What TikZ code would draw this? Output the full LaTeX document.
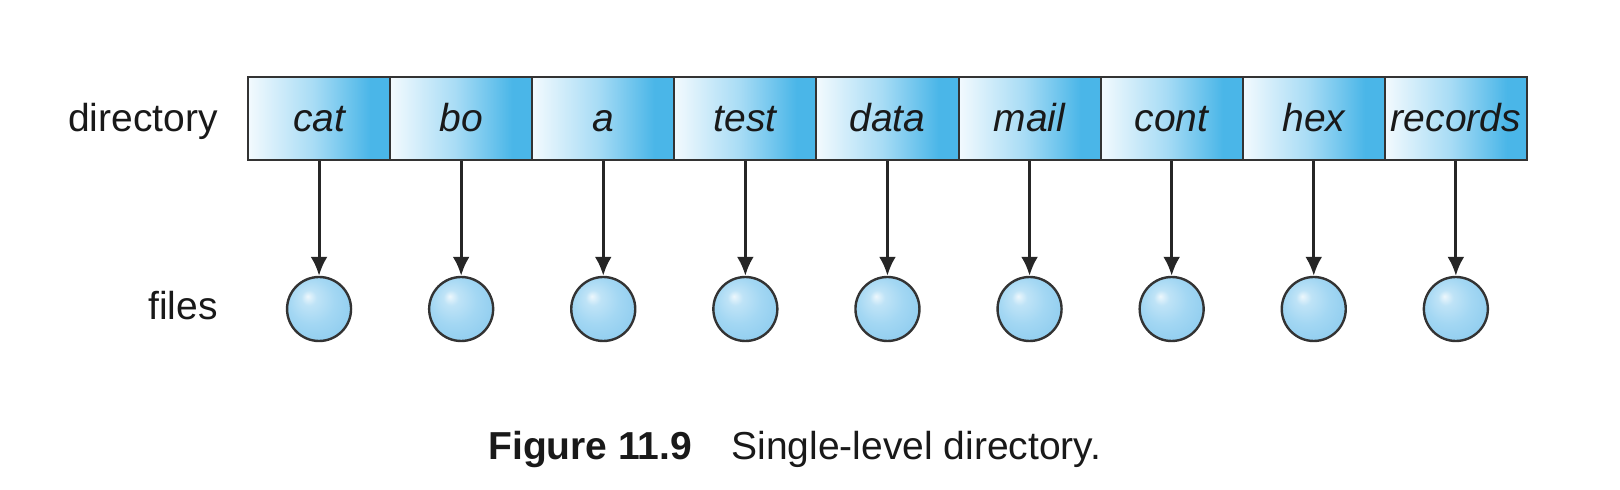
\documentclass[tikz,border=0pt]{standalone}
\usepackage{fontspec}
\setmainfont{Liberation Sans}
\usetikzlibrary{arrows.meta}
\definecolor{cleft}{HTML}{F3FAFE}
\definecolor{cmid}{HTML}{A8DCF5}
\definecolor{cright}{HTML}{4AB6E8}
\definecolor{cb}{HTML}{A3D7F3}
\definecolor{cbdark}{HTML}{8CCBEE}
\definecolor{edge}{HTML}{333333}
\pgfdeclarehorizontalshading{cellshade}{100bp}{color(0bp)=(cleft); color(25bp)=(cleft); color(48bp)=(cmid); color(68bp)=(cright); color(100bp)=(cright)}
\pgfdeclareradialshading{fileshade}{\pgfpoint{-9bp}{10bp}}{color(0bp)=(cb!20!white); color(6bp)=(cb!70!white); color(18bp)=(cb); color(34bp)=(cbdark); color(50bp)=(cbdark)}
\begin{document}
\begin{tikzpicture}[x=0.5pt,y=-0.5pt,
  every node/.style={font=\fontsize{19.5}{23}\selectfont, text=black!90},
  cell/.style={draw=edge, line width=1pt, shading=cellshade, minimum width=71.05pt, minimum height=41.25pt, inner sep=0pt, text height=13.2pt, text depth=0pt, font=\fontsize{19.5}{23}\selectfont\itshape},
  filec/.style={circle, draw=edge, line width=1.2pt, shading=fileshade, minimum size=32pt, inner sep=0pt},
  arr/.style={line width=1.5pt, draw=black!85, -{Latex[length=9.5pt,width=8.5pt]}},
  lab/.style={anchor=base east, inner sep=0pt}]
\useasboundingbox (0,0) rectangle (1620,490);
\foreach \i/\t in {1/cat,2/bo,3/a,4/test,5/data,6/mail,7/cont,8/hex,9/records}{
  \node[cell] (c\i) at ({248+(\i-0.5)*142.1},118.75) {\t};
  \node[filec] (f\i) at ({248+(\i-0.5)*142.1},309) {};
  \draw[arr] (c\i.south) -- (f\i.north);
}
\node[lab] (ldir) at (218,132) {directory};
\node[lab] (lfiles) at (218,320) {files};
\node[anchor=base west, inner sep=0pt] (capnum) at (488,460) {\bfseries Figure 11.9};
\node[anchor=base west, inner sep=0pt] (captxt) at (731,460) {Single-level directory.};
\end{tikzpicture}
\end{document}
